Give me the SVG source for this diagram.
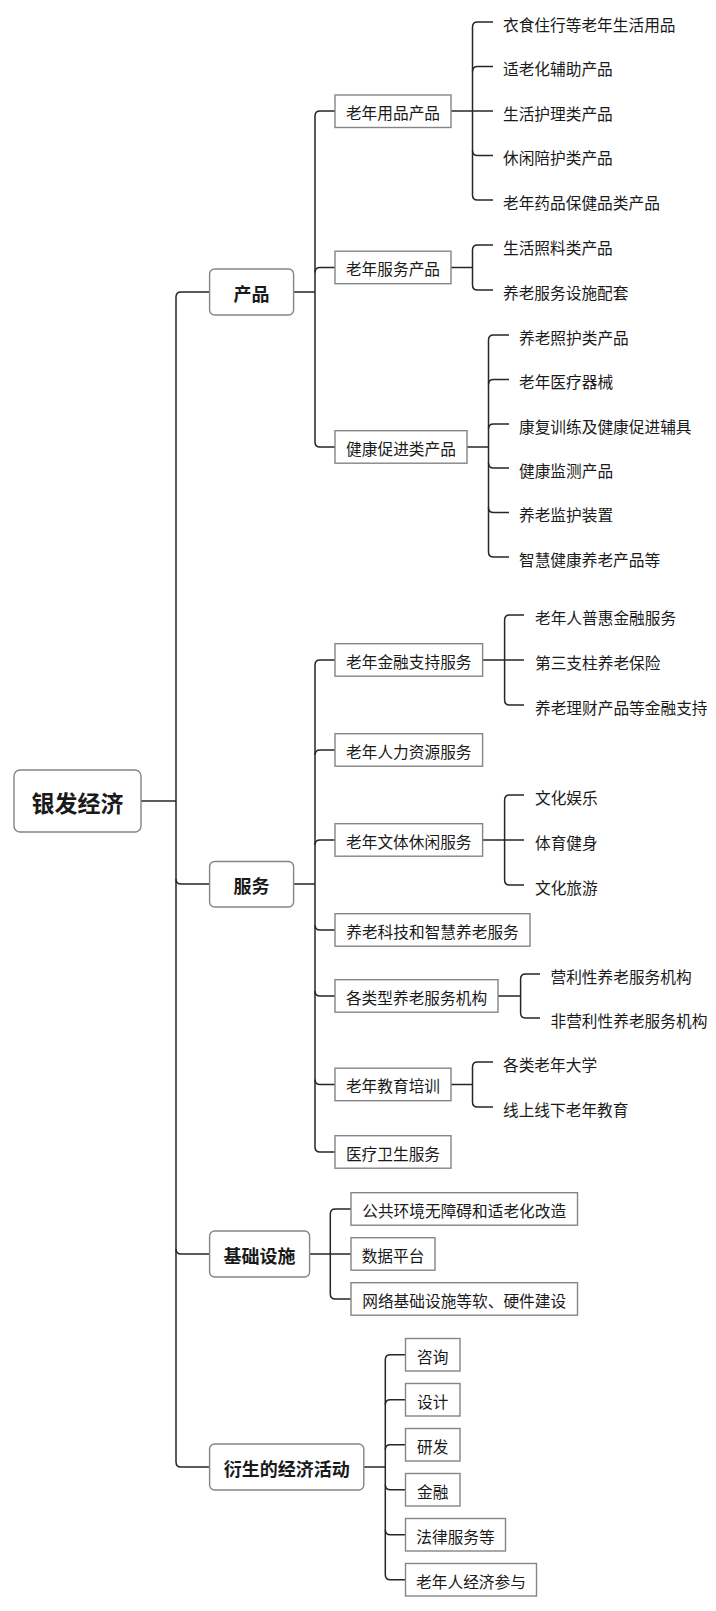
<svg xmlns="http://www.w3.org/2000/svg" width="716" height="1611" viewBox="0 0 716 1611">
<style>
text{font-family:"Noto Sans CJK SC","Noto Sans",sans-serif;fill:#1a1a1a;dominant-baseline:central}
.t2{font-size:15.7px;text-anchor:middle}
.lf{font-size:15.7px}
.t1{font-size:18px;font-weight:bold;text-anchor:middle}
.t0{font-size:23px;font-weight:bold;text-anchor:middle}
.b2{fill:#fff;stroke:#858585;stroke-width:1.4}
.b1{fill:#fff;stroke:#858585;stroke-width:1.4}
#connectors path{fill:none;stroke:#262626;stroke-width:1.5}
</style>
<rect width="716" height="1611" fill="#fff"/>
<g id="connectors">
<path d="M141,801 H176"/>
<path d="M209.6,292 H181 Q176,292 176,297 V1462 Q176,1467 181,1467 H209.6"/>
<path d="M176,879 Q176,884 181,884 H209.6"/>
<path d="M176,1249 Q176,1254 181,1254 H209.6"/>
<path d="M293.6,292 H315"/>
<path d="M335,111 H320 Q315,111 315,116 V442 Q315,447 320,447 H335"/>
<path d="M315,272.5 Q315,267.5 320,267.5 H335"/>
<path d="M451,111 H493"/>
<path d="M493,22 H477.5 Q472.5,22 472.5,27 V195 Q472.5,200 477.5,200 H493"/>
<path d="M472.5,71.5 Q472.5,66.5 477.5,66.5 H493"/>
<path d="M472.5,150.5 Q472.5,155.5 477.5,155.5 H493"/>
<path d="M451,267.5 H472.5"/>
<path d="M493,245 H477.5 Q472.5,245 472.5,250 V285 Q472.5,290 477.5,290 H493"/>
<path d="M467,447 H488.5"/>
<path d="M509,335 H493.5 Q488.5,335 488.5,340 V552 Q488.5,557 493.5,557 H509"/>
<path d="M488.5,384.5 Q488.5,379.5 493.5,379.5 H509"/>
<path d="M488.5,429 Q488.5,424 493.5,424 H509"/>
<path d="M488.5,463 Q488.5,468 493.5,468 H509"/>
<path d="M488.5,507.5 Q488.5,512.5 493.5,512.5 H509"/>
<path d="M293.6,884 H315"/>
<path d="M335,660 H320 Q315,660 315,665 V1147 Q315,1152 320,1152 H335"/>
<path d="M315,755 Q315,750 320,750 H335"/>
<path d="M315,845 Q315,840 320,840 H335"/>
<path d="M315,925 Q315,930 320,930 H335"/>
<path d="M315,991 Q315,996 320,996 H335"/>
<path d="M315,1079.5 Q315,1084.5 320,1084.5 H335"/>
<path d="M482.6,660 H524"/>
<path d="M524,615 H509.6 Q504.6,615 504.6,620 V700 Q504.6,705 509.6,705 H524"/>
<path d="M482.6,840 H524"/>
<path d="M524,795 H509.6 Q504.6,795 504.6,800 V880 Q504.6,885 509.6,885 H524"/>
<path d="M498,996 H520.6"/>
<path d="M540,974 H525.6 Q520.6,974 520.6,979 V1013 Q520.6,1018 525.6,1018 H540"/>
<path d="M451,1084.5 H472.5"/>
<path d="M493,1062 H477.5 Q472.5,1062 472.5,1067 V1102 Q472.5,1107 477.5,1107 H493"/>
<path d="M309.6,1254 H351"/>
<path d="M351,1209 H335.3 Q330.3,1209 330.3,1214 V1294 Q330.3,1299 335.3,1299 H351"/>
<path d="M363.8,1467 H385.3"/>
<path d="M405.5,1354.7 H390.3 Q385.3,1354.7 385.3,1359.7 V1574.7 Q385.3,1579.7 390.3,1579.7 H405.5"/>
<path d="M385.3,1404.7 Q385.3,1399.7 390.3,1399.7 H405.5"/>
<path d="M385.3,1449.7 Q385.3,1444.7 390.3,1444.7 H405.5"/>
<path d="M385.3,1484.7 Q385.3,1489.7 390.3,1489.7 H405.5"/>
<path d="M385.3,1529.7 Q385.3,1534.7 390.3,1534.7 H405.5"/>
</g>
<g id="root"><rect class="b1" x="14" y="770" width="127" height="62" rx="6"/><text class="t0" x="77.5" y="802">银发经济</text></g>
<g id="n-chanpin"><rect class="b1" x="209.6" y="269" width="84" height="46" rx="5"/><text class="t1" x="251.6" y="293">产品</text></g>
<g id="n-fuwu"><rect class="b1" x="209.6" y="861.5" width="84" height="45.5" rx="5"/><text class="t1" x="251.6" y="885">服务</text></g>
<g id="n-jichu"><rect class="b1" x="209.6" y="1231" width="100" height="46" rx="5"/><text class="t1" x="259.6" y="1255">基础设施</text></g>
<g id="n-yansheng"><rect class="b1" x="209.6" y="1444" width="154.2" height="46" rx="5"/><text class="t1" x="286.7" y="1468">衍生的经济活动</text></g>
<g id="a1"><rect class="b2" x="335" y="95" width="116" height="32.5"/><text class="t2" x="393" y="112">老年用品产品</text></g>
<g id="a2"><rect class="b2" x="335" y="251.2" width="116" height="32.5"/><text class="t2" x="393" y="268.5">老年服务产品</text></g>
<g id="a3"><rect class="b2" x="335" y="430.7" width="132" height="32.5"/><text class="t2" x="401" y="448">健康促进类产品</text></g>
<g id="b1"><rect class="b2" x="335" y="643.7" width="147.6" height="32.5"/><text class="t2" x="408.8" y="661">老年金融支持服务</text></g>
<g id="b2"><rect class="b2" x="335" y="733.7" width="147.6" height="32.5"/><text class="t2" x="408.8" y="751">老年人力资源服务</text></g>
<g id="b3"><rect class="b2" x="335" y="823.7" width="147.6" height="32.5"/><text class="t2" x="408.8" y="841">老年文体休闲服务</text></g>
<g id="b4"><rect class="b2" x="335" y="913.7" width="195" height="32.5"/><text class="t2" x="432.5" y="931">养老科技和智慧养老服务</text></g>
<g id="b5"><rect class="b2" x="335" y="979.7" width="163" height="32.5"/><text class="t2" x="416.5" y="997">各类型养老服务机构</text></g>
<g id="b6"><rect class="b2" x="335" y="1068.2" width="116" height="32.5"/><text class="t2" x="393" y="1085.5">老年教育培训</text></g>
<g id="b7"><rect class="b2" x="335" y="1135.7" width="116" height="32.5"/><text class="t2" x="393" y="1153">医疗卫生服务</text></g>
<g id="c1"><rect class="b2" x="351" y="1192.7" width="226.5" height="32.5"/><text class="t2" x="464.2" y="1210">公共环境无障碍和适老化改造</text></g>
<g id="c2"><rect class="b2" x="351" y="1237.7" width="84" height="32.5"/><text class="t2" x="393" y="1255">数据平台</text></g>
<g id="c3"><rect class="b2" x="351" y="1282.7" width="226.5" height="32.5"/><text class="t2" x="464.2" y="1300">网络基础设施等软、硬件建设</text></g>
<g id="d1"><rect class="b2" x="405.5" y="1338.5" width="54.5" height="32.5"/><text class="t2" x="432.7" y="1356">咨询</text></g>
<g id="d2"><rect class="b2" x="405.5" y="1383.5" width="54.5" height="32.5"/><text class="t2" x="432.7" y="1401">设计</text></g>
<g id="d3"><rect class="b2" x="405.5" y="1428.5" width="54.5" height="32.5"/><text class="t2" x="432.7" y="1446">研发</text></g>
<g id="d4"><rect class="b2" x="405.5" y="1473.5" width="54.5" height="32.5"/><text class="t2" x="432.7" y="1491">金融</text></g>
<g id="d5"><rect class="b2" x="405.5" y="1518.5" width="100" height="32.5"/><text class="t2" x="455.5" y="1536">法律服务等</text></g>
<g id="d6"><rect class="b2" x="405.5" y="1563.5" width="131" height="32.5"/><text class="t2" x="471" y="1581">老年人经济参与</text></g>
<g id="leaves">
<text class="lf" x="503" y="24">衣食住行等老年生活用品</text>
<text class="lf" x="503" y="68.5">适老化辅助产品</text>
<text class="lf" x="503" y="113">生活护理类产品</text>
<text class="lf" x="503" y="157.5">休闲陪护类产品</text>
<text class="lf" x="503" y="202">老年药品保健品类产品</text>
<text class="lf" x="503" y="247">生活照料类产品</text>
<text class="lf" x="503" y="292">养老服务设施配套</text>
<text class="lf" x="519" y="337">养老照护类产品</text>
<text class="lf" x="519" y="381.5">老年医疗器械</text>
<text class="lf" x="519" y="426">康复训练及健康促进辅具</text>
<text class="lf" x="519" y="470">健康监测产品</text>
<text class="lf" x="519" y="514.5">养老监护装置</text>
<text class="lf" x="519" y="559">智慧健康养老产品等</text>
<text class="lf" x="535" y="617">老年人普惠金融服务</text>
<text class="lf" x="535" y="662">第三支柱养老保险</text>
<text class="lf" x="535" y="707">养老理财产品等金融支持</text>
<text class="lf" x="535" y="797">文化娱乐</text>
<text class="lf" x="535" y="842">体育健身</text>
<text class="lf" x="535" y="887">文化旅游</text>
<text class="lf" x="550.5" y="976">营利性养老服务机构</text>
<text class="lf" x="550.5" y="1020">非营利性养老服务机构</text>
<text class="lf" x="503" y="1064">各类老年大学</text>
<text class="lf" x="503" y="1109">线上线下老年教育</text>
</g>
</svg>
